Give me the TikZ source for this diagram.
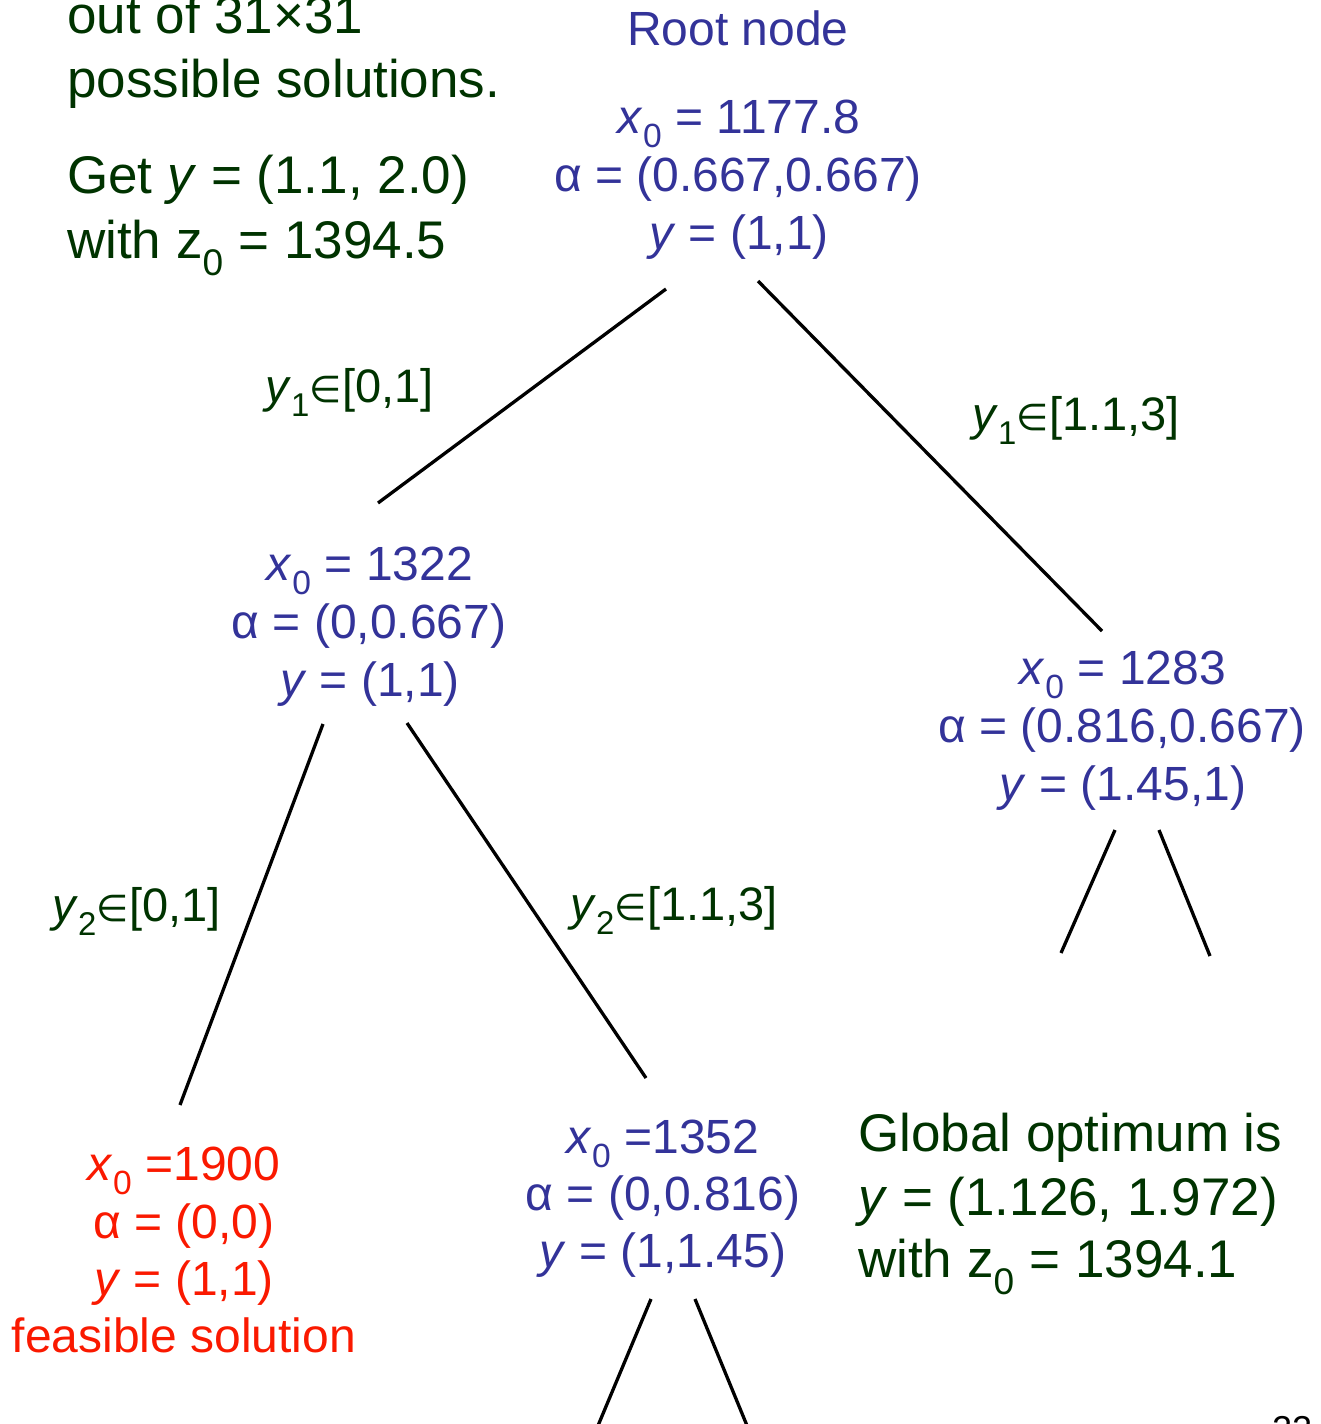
\documentclass[tikz,border=0pt]{standalone}
\usepackage{fontspec}
\setmainfont{Liberation Sans}
\newfontfamily\symfam{DejaVu Sans}
\definecolor{nodeblue}{RGB}{51,51,153}
\definecolor{txtgreen}{RGB}{0,51,0}
\definecolor{feasred}{RGB}{250,25,0}
\newcommand{\inmark}{{\symfam\fontsize{37}{37}\selectfont ∈}}
\newcommand{\xz}{\textit{x}\textsubscript{0}}
\newcommand{\yv}{\textit{y}}
\tikzset{
  nodeline/.style={anchor=base, inner sep=0pt, text=nodeblue, font=\fontsize{48}{58}\selectfont},
  redline/.style={nodeline, text=feasred},
  sidetext/.style={anchor=base west, inner sep=0pt, text=txtgreen, font=\fontsize{53}{64}\selectfont},
  edgelabel/.style={anchor=base west, inner sep=0pt, text=txtgreen, font=\fontsize{47}{58}\selectfont},
  branch/.style={draw=black, line width=3.3pt},
  pagenum/.style={anchor=base west, inner sep=0pt, text=black, font=\fontsize{36}{40}\selectfont},
}
\begin{document}
\begin{tikzpicture}[x=1pt,y=-1pt]
\useasboundingbox (0,0) rectangle (1320,1424);
\begin{scope}
\clip (0,0) rectangle (1320,1424);

% left top text
\node[sidetext] (lt1) at (67,33) {out of 31×31};
\node[sidetext] (lt2) at (67,97) {possible solutions.};
\node[sidetext] (lt3) at (67,193) {Get \yv{} = (1.1, 2.0)};
\node[sidetext] (lt4) at (67,258) {with z\textsubscript{0} = 1394.5};

% root node
\node[nodeline] (rootT) at (738,45) {Root node};
\node[nodeline] (root1) at (739,133) {\xz{} = 1177.8};
\node[nodeline] (root2) at (738,191) {α = (0.667,0.667)};
\node[nodeline] (root3) at (739,249) {\yv{} = (1,1)};

% node 1322
\node[nodeline] (a1) at (370,580) {\xz{} = 1322};
\node[nodeline] (a2) at (369,638) {α = (0,0.667)};
\node[nodeline] (a3) at (370,696) {\yv{} = (1,1)};

% node 1283
\node[nodeline] (b1) at (1123,684) {\xz{} = 1283};
\node[nodeline] (b2) at (1122,742) {α = (0.816,0.667)};
\node[nodeline] (b3) at (1123,800) {\yv{} = (1.45,1)};

% node 1352
\node[nodeline] (c1) at (663,1153) {\xz{} =1352};
\node[nodeline] (c2) at (663,1210) {α = (0,0.816)};
\node[nodeline] (c3) at (663,1267) {\yv{} = (1,1.45)};

% feasible node
\node[redline] (d1) at (184,1180) {\xz{} =1900};
\node[redline] (d2) at (184,1238) {α = (0,0)};
\node[redline] (d3) at (184,1295) {\yv{} = (1,1)};
\node[redline] (d4) at (184,1352) {feasible solution};

% global optimum text
\node[sidetext] (g1) at (858,1151) {Global optimum is};
\node[sidetext] (g2) at (858,1215) {\yv{} = (1.126, 1.972)};
\node[sidetext] (g3) at (858,1277) {with z\textsubscript{0} = 1394.1};

% edge labels
\node[edgelabel] (e1) at (265,402) {\yv\textsubscript{1}\inmark[0,1]};
\node[edgelabel] (e2) at (972,430) {\yv\textsubscript{1}\inmark[1.1,3]};
\node[edgelabel] (e3) at (52,921) {\yv\textsubscript{2}\inmark[0,1]};
\node[edgelabel] (e4) at (570,920) {\yv\textsubscript{2}\inmark[1.1,3]};

% branch end points
\coordinate (rootL) at (666,289);
\coordinate (rootR) at (758,281);
\coordinate (aTop) at (378,503);
\coordinate (bTop) at (1102,631);
\coordinate (aL) at (323,724);
\coordinate (aR) at (407,723);
\coordinate (dTop) at (180,1105);
\coordinate (cTop) at (646,1078);
\coordinate (bL) at (1115,830);
\coordinate (bR) at (1159,830);
\coordinate (bLend) at (1061,953);
\coordinate (bRend) at (1210,956);
\coordinate (cL) at (651,1299);
\coordinate (cR) at (695,1299);
\coordinate (cLend) at (597,1428);
\coordinate (cRend) at (748,1428);

\draw[branch] (rootL) -- (aTop);
\draw[branch] (rootR) -- (bTop);
\draw[branch] (aL) -- (dTop);
\draw[branch] (aR) -- (cTop);
\draw[branch] (bL) -- (bLend);
\draw[branch] (bR) -- (bRend);
\draw[branch] (cL) -- (cLend);
\draw[branch] (cR) -- (cRend);

% page number, cut off at the bottom
\node[pagenum] (pg) at (1272,1441) {22};
\end{scope}
\end{tikzpicture}
\end{document}
